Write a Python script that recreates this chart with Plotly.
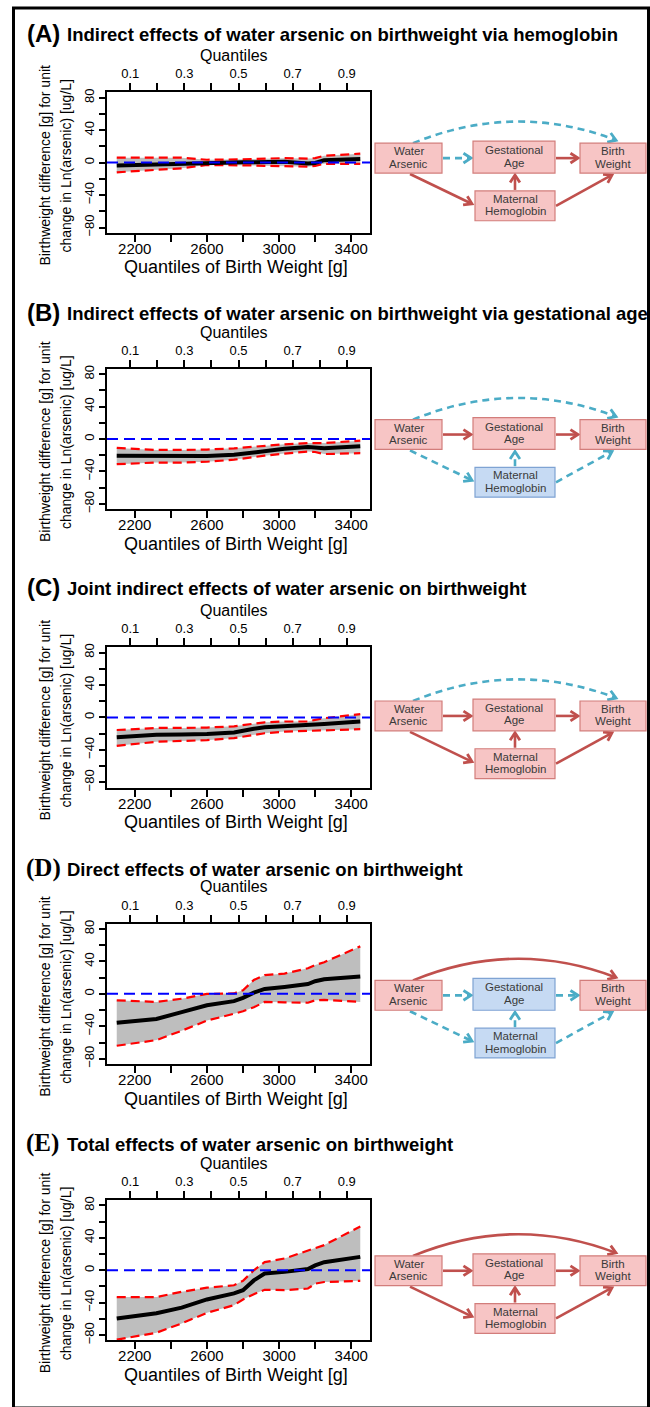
import math
import plotly.graph_objects as go

W, H = 650, 1407
SANS = "Liberation Sans, Arial, Helvetica, sans-serif"
SERIF = "Liberation Serif, Times New Roman, serif"

# ---------------- data ----------------
birth_weight_q = [2100, 2320, 2460, 2600, 2750, 2800, 2860, 2920, 3030, 3160, 3200, 3250, 3450]

a_est = [-3.5, -2, -1, 0, 0, 0.5, 0.5, 1, 1, -1, -0.5, 3, 4.5]
a_upper = [6, 6, 6, 3.5, 3.5, 4, 4.5, 5, 5.5, 5, 5.5, 8.5, 11]
a_lower = [-12, -9, -7, -3, -3, -3, -3.5, -4, -4.5, -5, -4, -1.5, -1.5]

b_est = [-20.5, -21, -21.5, -21, -19.5, -18, -16, -14.5, -12, -10, -10.5, -11.5, -9]
b_upper = [-11, -13.5, -13.5, -13, -11.5, -10.5, -9.5, -8, -6.5, -5, -5, -5, -2]
b_lower = [-31, -29, -29, -28, -25.5, -24, -22, -20.5, -18, -15.5, -16, -18.5, -17.5]

c_est = [-24.5, -21.5, -21, -20.5, -18.5, -17, -14, -12, -11, -9.5, -9, -8, -5]
c_upper = [-15.5, -13, -13, -12.5, -11, -9.5, -7.5, -6, -5, -5, -3, -1, 4]
c_lower = [-35, -30, -29, -28, -25.5, -24, -21.5, -19.5, -17.5, -16.5, -16, -15.5, -14.5]

d_est = [-35.5, -31, -22.5, -14, -9, -5, 1.5, 6, 8.5, 12, 15.5, 18, 21.5]
d_upper = [-8, -10, -6, 0, 0.5, 4.5, 17, 23, 25, 31.5, 35.5, 39, 58.5]
d_lower = [-64, -57, -45.5, -33, -24.5, -21.5, -16.5, -10, -10.5, -11, -8, -7.5, -10]

e_est = [-59.5, -53, -46, -36, -28.5, -24.5, -12.5, -4, -2, 1.5, 6, 10, 16.5]
e_upper = [-33, -33, -26.5, -21.5, -18.5, -13, 0, 10, 14.5, 24.5, 28, 31, 54]
e_lower = [-85.5, -77, -65.5, -52.5, -43, -36, -29.5, -24, -24.5, -22.5, -16.5, -14.5, -13]

panel_labels = ["(A)", "(B)", "(C)", "(D)", "(E)"]
panel_titles = [
    "Indirect effects of water arsenic on birthweight via hemoglobin",
    "Indirect effects of water arsenic on birthweight via gestational age",
    "Joint indirect effects of water arsenic on birthweight",
    "Direct effects of water arsenic on birthweight",
    "Total effects of water arsenic on birthweight",
]

bw_tick_vals = [2200, 2400, 2600, 2800, 3000, 3200, 3400]
bw_tick_text = ["2200", "", "2600", "", "3000", "", "3400"]
q_tick_vals = [0.1, 0.2, 0.3, 0.4, 0.5, 0.6, 0.7, 0.8, 0.9]
q_tick_text = ["0.1", "", "0.3", "", "0.5", "", "0.7", "", "0.9"]
y_tick_vals = [-80, -60, -40, -20, 0, 20, 40, 60, 80]
y_tick_text = ["\u221280", "", "\u221240", "", "0", "", "40", "", "80"]

node_labels = {
    "wa": ["Water", "Arsenic"],
    "ga": ["Gestational", "Age"],
    "bw": ["Birth", "Weight"],
    "mh": ["Maternal", "Hemoglobin"],
}
# path styles for each panel diagram: r = solid red, b = dashed blue
diagram_styles = [
    dict(arc="b", wa_ga="b", ga_bw="r", wa_mh="r", mh_ga="r", mh_bw="r", ga_box="r", mh_box="r"),
    dict(arc="b", wa_ga="r", ga_bw="r", wa_mh="b", mh_ga="b", mh_bw="b", ga_box="r", mh_box="b"),
    dict(arc="b", wa_ga="r", ga_bw="r", wa_mh="r", mh_ga="r", mh_bw="r", ga_box="r", mh_box="r"),
    dict(arc="r", wa_ga="b", ga_bw="b", wa_mh="b", mh_ga="b", mh_bw="b", ga_box="b", mh_box="b"),
    dict(arc="r", wa_ga="r", ga_bw="r", wa_mh="r", mh_ga="r", mh_bw="r", ga_box="r", mh_box="r"),
]

series = [
    (a_est, a_upper, a_lower),
    (b_est, b_upper, b_lower),
    (c_est, c_upper, c_lower),
    (d_est, d_upper, d_lower),
    (e_est, e_upper, e_lower),
]

# ---------------- layout (pixels) ----------------
box_tops = [89, 367, 647, 925, 1203]
box_h = 141
title_ys = [33, 313, 590, 872, 1149]
diag_tops = [140, 418, 701, 982, 1259]
PL, PR = 107, 370

RED = "#C0504D"
BLUE = "#4BACC6"


def px(x):
    return x / W


def py(y):
    return 1 - y / H


fig = go.Figure()
layout = dict(
    width=W, height=H, autosize=False,
    margin=dict(l=0, r=0, t=0, b=0),
    paper_bgcolor="white", plot_bgcolor="white",
    showlegend=False,
    font=dict(family=SANS, color="black"),
)
annotations = []
shapes = []

for i in range(5):
    k = i + 1
    xn = "x" if k == 1 else f"x{k}"
    yn = "y" if k == 1 else f"y{k}"
    xk = "xaxis" if k == 1 else f"xaxis{k}"
    yk = "yaxis" if k == 1 else f"yaxis{k}"
    xtn = f"x{k + 5}"
    xtk = f"xaxis{k + 5}"
    top = box_tops[i]
    bot = top + box_h
    est, up, lo = series[i]

    # band
    fig.add_trace(go.Scatter(x=birth_weight_q, y=up, xaxis=xn, yaxis=yn, mode="lines",
                             line=dict(width=0, color="rgba(0,0,0,0)"), hoverinfo="skip"))
    fig.add_trace(go.Scatter(x=birth_weight_q, y=lo, xaxis=xn, yaxis=yn, mode="lines",
                             line=dict(width=0, color="rgba(0,0,0,0)"), fill="tonexty",
                             fillcolor="#BEBEBE", hoverinfo="skip"))
    for arr in (up, lo):
        fig.add_trace(go.Scatter(x=birth_weight_q, y=arr, xaxis=xn, yaxis=yn, mode="lines",
                                 line=dict(color="#FF0000", width=2.2, dash="9px,5px")))
    fig.add_trace(go.Scatter(x=birth_weight_q, y=est, xaxis=xn, yaxis=yn, mode="lines",
                             line=dict(color="black", width=4)))
    # invisible helper for top quantile axis
    fig.add_trace(go.Scatter(x=q_tick_vals, y=[0] * len(q_tick_vals), xaxis=xtn, yaxis=yn,
                             mode="markers", marker=dict(opacity=0), hoverinfo="skip"))

    layout[xk] = dict(domain=[px(PL), px(PR)], anchor=yn, range=[2046, 3504],
                      tickvals=bw_tick_vals, ticktext=bw_tick_text, ticks="outside",
                      ticklen=7, tickwidth=1.5, tickcolor="black", showline=True,
                      linecolor="black", linewidth=2, mirror=True, showgrid=False,
                      zeroline=False, ticklabelstandoff=-6,
                      tickfont=dict(size=15, family=SANS, color="black"))
    layout[xtk] = dict(overlaying=xn, side="top", anchor=yn, range=[0.014, 0.986],
                       tickvals=q_tick_vals, ticktext=q_tick_text, ticks="outside",
                       ticklen=8, tickwidth=1.5, tickcolor="black", showline=False,
                       showgrid=False, zeroline=False,
                       tickfont=dict(size=13, family=SANS, color="black"))
    layout[yk] = dict(domain=[py(bot), py(top)], anchor=xn, range=[-86.4, 86.4],
                      tickvals=y_tick_vals, ticktext=y_tick_text, tickangle=-90,
                      ticks="outside", ticklen=6, tickwidth=1.5, tickcolor="black",
                      showline=True, linecolor="black", linewidth=2, mirror=True,
                      showgrid=False, zeroline=False,
                      tickfont=dict(size=13, family=SANS, color="black"))

    # zero reference line
    shapes.append(dict(type="line", xref=f"{xn} domain", yref=yn, x0=0, x1=1, y0=0, y1=0,
                       line=dict(color="#0000FF", width=2, dash="11px,6px"), layer="above"))

    # titles
    lab_font = dict(size=25 if i >= 3 else 24, family=SERIF if i >= 3 else SANS, color="black")
    annotations.append(dict(text=f"<b>{panel_labels[i]}</b>", x=px(24 if i >= 3 else 25),
                            y=py(title_ys[i] - 3), xref="paper", yref="paper",
                            xanchor="left", yanchor="middle", showarrow=False, font=lab_font))
    annotations.append(dict(text=f"<b>{panel_titles[i]}</b>", x=px(65), y=py(title_ys[i] - 2),
                            xref="paper", yref="paper", xanchor="left", yanchor="middle",
                            showarrow=False, font=dict(size=18.5, family=SANS, color="black")))
    annotations.append(dict(text="Quantiles", x=px(234), y=py(top - 37), xref="paper",
                            yref="paper", showarrow=False, xanchor="center", yanchor="middle",
                            font=dict(size=16, family=SANS, color="black")))
    annotations.append(dict(text="Quantiles of Birth Weight [g]", x=px(236), y=py(bot + 35),
                            xref="paper", yref="paper", showarrow=False, xanchor="center",
                            yanchor="middle", font=dict(size=18, family=SANS, color="black")))
    yc = (top + bot) / 2 + 3
    annotations.append(dict(text="Birthweight difference [g] for unit", x=px(45), y=py(yc),
                            xref="paper", yref="paper", showarrow=False, textangle=-90,
                            xanchor="center", yanchor="middle",
                            font=dict(size=14, family=SANS, color="black")))
    annotations.append(dict(text="change in Ln(arsenic) [ug/L]", x=px(66), y=py(yc),
                            xref="paper", yref="paper", showarrow=False, textangle=-90,
                            xanchor="center", yanchor="middle",
                            font=dict(size=14, family=SANS, color="black")))

    # ---------- diagram ----------
    T = diag_tops[i]
    st = diagram_styles[i]

    def node(x0, y0, x1, y1, style, labels):
        fill = "#F7C5C5" if style == "r" else "#C6DAF3"
        edge = "#D27D7B" if style == "r" else "#7FA3D3"
        shapes.append(dict(type="rect", xref="paper", yref="paper", x0=px(x0), x1=px(x1),
                           y0=py(y1), y1=py(y0), fillcolor=fill,
                           line=dict(color=edge, width=1.2), layer="above"))
        cx, cy = (x0 + x1) / 2, (y0 + y1) / 2
        for j, t in enumerate(labels):
            annotations.append(dict(text=t, x=px(cx), y=py(cy - 7 + 12.5 * j), xref="paper",
                                    yref="paper", showarrow=False, xanchor="center",
                                    yanchor="middle",
                                    font=dict(size=11.5, family=SANS, color="#3a3a3a")))

    def chevron(tx, ty, dx, dy, color, L=9, ang=33):
        n = math.hypot(dx, dy)
        ux, uy = dx / n, dy / n
        pts = []
        for s in (1, -1):
            a = math.radians(ang) * s
            rx = (-ux) * math.cos(a) - (-uy) * math.sin(a)
            ry = (-ux) * math.sin(a) + (-uy) * math.cos(a)
            pts.append((tx + L * rx, ty + L * ry))
        path = (f"M {px(pts[0][0])},{py(pts[0][1])} L {px(tx)},{py(ty)} "
                f"L {px(pts[1][0])},{py(pts[1][1])}")
        shapes.append(dict(type="path", path=path, xref="paper", yref="paper",
                           line=dict(color=color, width=2.8), layer="above"))

    def arrow(x0, y0, x1, y1, style):
        color = RED if style == "r" else BLUE
        dash = "solid" if style == "r" else "7px,5px"
        n = math.hypot(x1 - x0, y1 - y0)
        ex, ey = x1 - (x1 - x0) / n * 2, y1 - (y1 - y0) / n * 2
        shapes.append(dict(type="line", xref="paper", yref="paper", x0=px(x0), y0=py(y0),
                           x1=px(ex), y1=py(ey), line=dict(color=color, width=2.6, dash=dash),
                           layer="above"))
        chevron(x1, y1, x1 - x0, y1 - y0, color)

    # arc WA -> BW
    ac = RED if st["arc"] == "r" else BLUE
    adash = "solid" if st["arc"] == "r" else "7px,5px"
    sx, sy, cx_, cy_, ex_, ey_ = 413, T, 515, T - 42, 616, T - 3
    shapes.append(dict(type="path", xref="paper", yref="paper",
                       path=f"M {px(sx)},{py(sy)} Q {px(cx_)},{py(cy_)} {px(ex_)},{py(ey_)}",
                       line=dict(color=ac, width=2.6, dash=adash), layer="above"))
    chevron(ex_, ey_, ex_ - cx_, ey_ - cy_, ac)

    arrow(443, T + 15, 471, T + 15, st["wa_ga"])
    arrow(556, T + 15, 578, T + 15, st["ga_bw"])
    arrow(410, T + 31, 472, T + 61, st["wa_mh"])
    arrow(515, T + 47, 515, T + 32, st["mh_ga"])
    arrow(556, T + 63, 612, T + 32, st["mh_bw"])

    node(375, T, 442, T + 30, "r", node_labels["wa"])
    node(473, T - 2, 555, T + 30, st["ga_box"], node_labels["ga"])
    node(580, T, 646, T + 30, "r", node_labels["bw"])
    node(475, T + 48, 555, T + 78, st["mh_box"], node_labels["mh"])

# outer frame
shapes.append(dict(type="rect", xref="paper", yref="paper", x0=px(13.5), x1=px(648.5),
                   y0=py(1412), y1=py(4), line=dict(color="black", width=3), layer="above"))

layout["annotations"] = annotations
layout["shapes"] = shapes
fig.update_layout(**layout)
fig.write_html("out.html")
